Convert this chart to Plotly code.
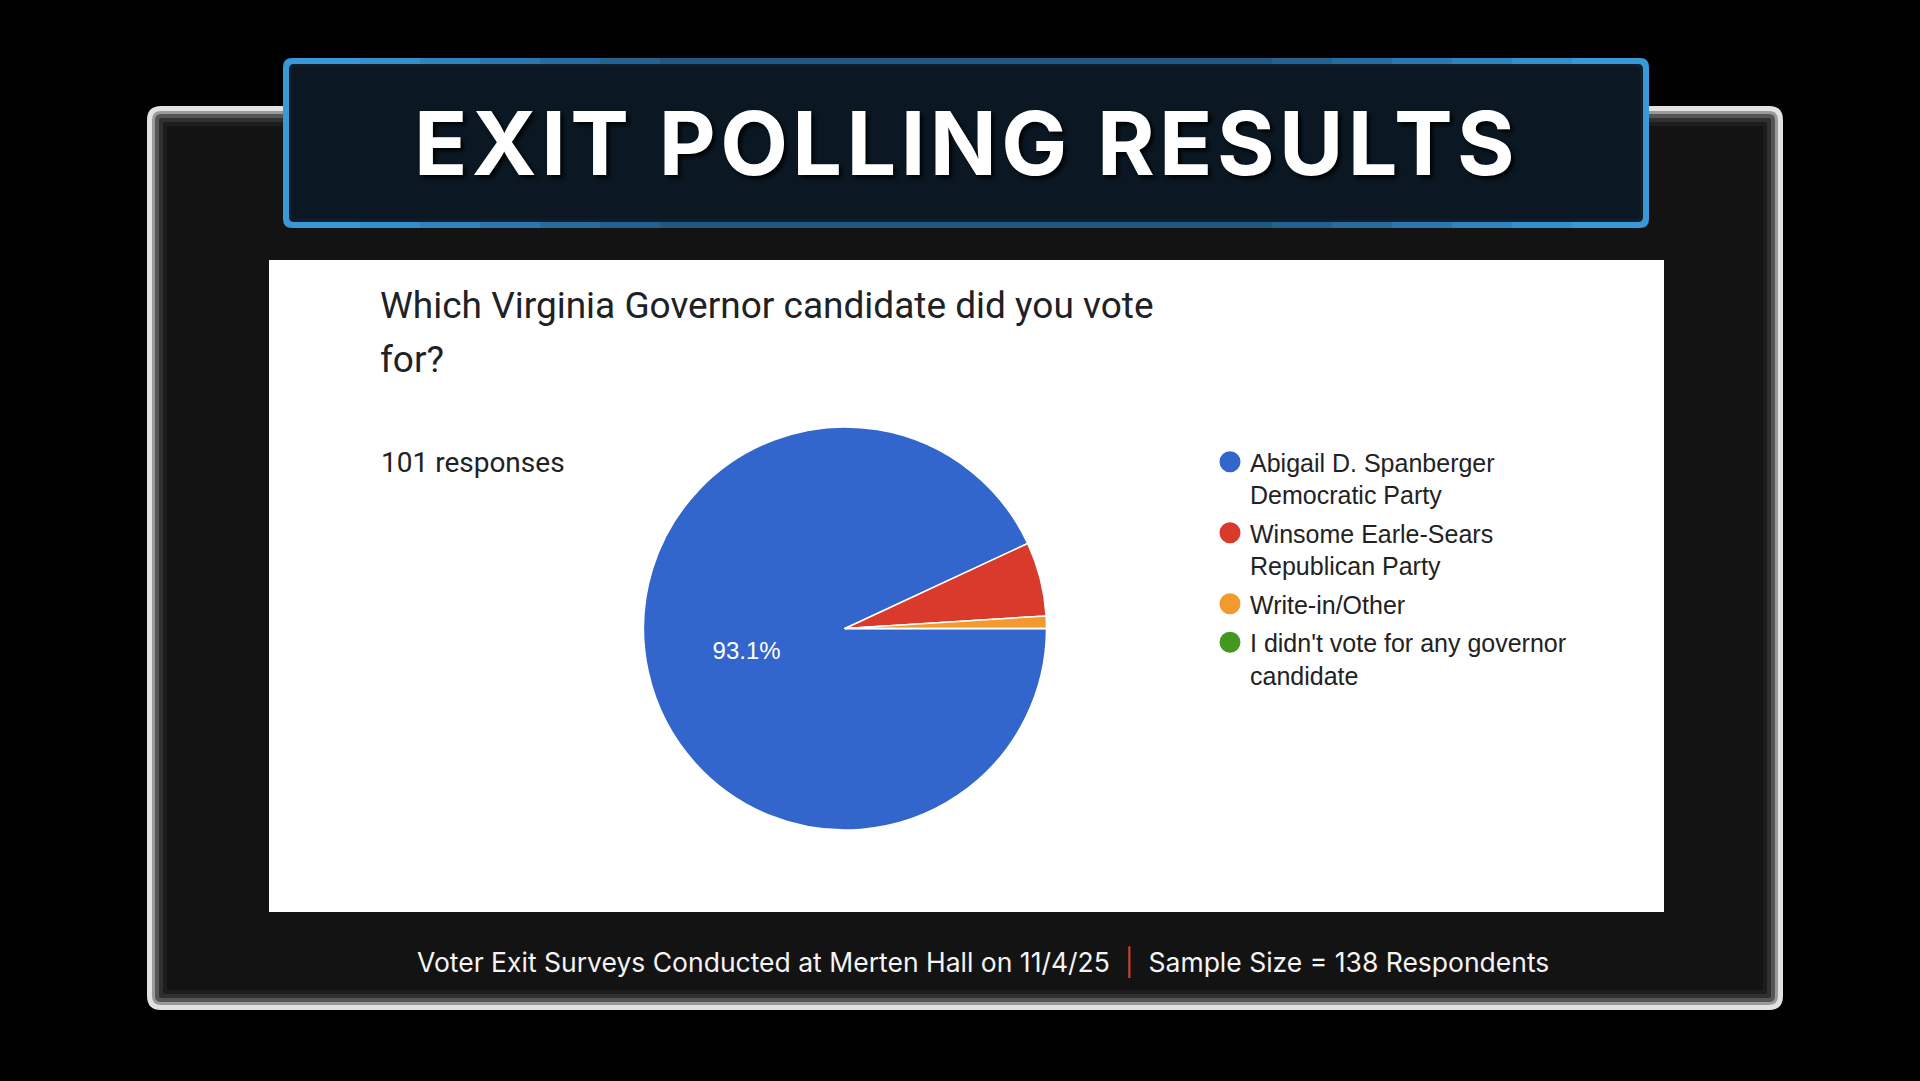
import plotly.graph_objects as go

# ---------------- data ----------------
labels = [
    "Abigail D. Spanberger<br>Democratic Party",
    "Winsome Earle-Sears<br>Republican Party",
    "Write-in/Other",
    "I didn't vote for any governor<br>candidate",
]
votes = [94, 6, 1, 0]
colors = ["#3366cc", "#d93a2b", "#f29a2e", "#44981f"]
slice_text = ["%{percent:.1%}", "", "", ""]

title_text = "EXIT POLLING RESULTS"
question_line1 = "Which Virginia Governor candidate did you vote"
question_line2 = "for?"
responses_text = "101 responses"
footer_left = "Voter Exit Surveys Conducted at Merten Hall on 11/4/25"
footer_right = "Sample Size = 138 Respondents"

# ---------------- figure ----------------
W, H = 1920, 1081
fig = go.Figure()

def rrect(x0, y0, x1, y1, r):
    return (f"M{x0+r},{y0} L{x1-r},{y0} Q{x1},{y0} {x1},{y0+r} "
            f"L{x1},{y1-r} Q{x1},{y1} {x1-r},{y1} L{x0+r},{y1} "
            f"Q{x0},{y1} {x0},{y1-r} L{x0},{y0+r} Q{x0},{y0} {x0+r},{y0} Z")

def box(x0, y0, x1, y1, c):
    return dict(type="rect", x0=x0, y0=y0, x1=x1, y1=y1, xref="x", yref="y",
                fillcolor=c, line=dict(width=0), layer="below")

shapes = []
# outer frame with light grey edge fading inward
frame = (147, 106, 1783, 1010)
frame_cols = ["#e2e2e2", "#9a9a9a", "#555555", "#303030", "#1d1d1d", "#131313"]
frame_inset = [0, 5, 8, 12, 16, 20]
for d, c in zip(frame_inset, frame_cols):
    shapes.append(dict(type="path", path=rrect(frame[0]+d, frame[1]+d, frame[2]-d, frame[3]-d, max(14-d, 2)),
                       xref="x", yref="y", fillcolor=c, line=dict(width=0), layer="below"))
# title banner: bright blue border at the ends, darker along the middle of top/bottom edges
shapes.append(dict(type="path", path=rrect(283, 58, 1649, 228, 9), xref="x", yref="y",
                   fillcolor="#3898d8", line=dict(width=0), layer="below"))
edge_steps = [(360, 1572, "#3490cd"), (420, 1512, "#2f84bf"), (480, 1452, "#2b78b0"),
              (540, 1392, "#276ca0"), (600, 1332, "#23618f"), (660, 1272, "#205883")]
for (xa, xb, c) in edge_steps:
    shapes.append(box(xa, 58, xb, 64, c))
    shapes.append(box(xa, 222, xb, 228, c))
shapes.append(dict(type="path", path=rrect(289, 64, 1643, 222, 5), xref="x", yref="y",
                   fillcolor="#0f1e2a", line=dict(width=0), layer="below"))
shapes.append(dict(type="path", path=rrect(292, 67, 1640, 219, 4), xref="x", yref="y",
                   fillcolor="#0b1823", line=dict(width=0), layer="below"))
# white chart panel
shapes.append(box(269, 260, 1664, 912, "#ffffff"))

fig.add_trace(go.Pie(
    labels=labels, values=votes, sort=False, direction="clockwise", rotation=90,
    marker=dict(colors=colors, line=dict(color="#ffffff", width=1.5)),
    texttemplate=slice_text, textposition="inside", insidetextorientation="horizontal",
    textfont=dict(family="Liberation Sans, Arial", size=24, color="#ffffff"),
    domain=dict(x=[643/W, 1047/W], y=[1-830/H, 1-427/H]),
    showlegend=False, hoverinfo="skip",
))

# legend entries (circle markers)
for i, (lab, col) in enumerate(zip(labels, colors)):
    fig.add_trace(go.Scatter(x=[None], y=[None], mode="markers", name=lab,
                             legendgroup=f"g{i}",
                             marker=dict(size=16, color=col, line=dict(color=col, width=5)),
                             showlegend=True, hoverinfo="skip"))

annotations = [
    dict(text=f"<span style='letter-spacing:4.4px'>{title_text}</span>", x=966, y=143,
         xref="x", yref="y", showarrow=False, xanchor="center", yanchor="middle",
         font=dict(family="Inter", size=88, color="#ffffff", weight=700,
                   shadow="3px 3px 4px rgba(0,0,0,0.9)")),
    dict(text=question_line1, x=378, y=305, xref="x", yref="y", showarrow=False,
         xanchor="left", yanchor="middle",
         font=dict(family="Roboto", size=37, color="#202124")),
    dict(text=question_line2, x=378, y=359, xref="x", yref="y", showarrow=False,
         xanchor="left", yanchor="middle",
         font=dict(family="Roboto", size=37, color="#202124")),
    dict(text=responses_text, x=379, y=462, xref="x", yref="y", showarrow=False,
         xanchor="left", yanchor="middle",
         font=dict(family="Roboto", size=28, color="#202124")),
    dict(text=f"{footer_left}  <span style='color:#c8452c'>|</span>  {footer_right}",
         x=983, y=962, xref="x", yref="y", showarrow=False,
         xanchor="center", yanchor="middle",
         font=dict(family="Inter", size=26.5, color="#f4f4f4", weight=400)),
]

fig.update_layout(
    width=W, height=H,
    margin=dict(l=0, r=0, t=0, b=0, pad=0),
    paper_bgcolor="#000000", plot_bgcolor="rgba(0,0,0,0)",
    xaxis=dict(range=[0, W], visible=False, domain=[0, 1], fixedrange=True),
    yaxis=dict(range=[H, 0], visible=False, domain=[0, 1], fixedrange=True),
    shapes=shapes, annotations=annotations,
    legend=dict(x=1210/W, y=1-439/H, xanchor="left", yanchor="top",
                valign="top", bgcolor="rgba(0,0,0,0)", tracegroupgap=3,
                font=dict(family="Liberation Sans, Arial", size=25, color="#222222")),
    showlegend=True,
)

fig.write_html(
    "out.html",
    config={"displayModeBar": False},
    post_script="document.body.style.margin='0';document.body.style.background='#000';"
                "document.documentElement.style.overflow='hidden';",
)
